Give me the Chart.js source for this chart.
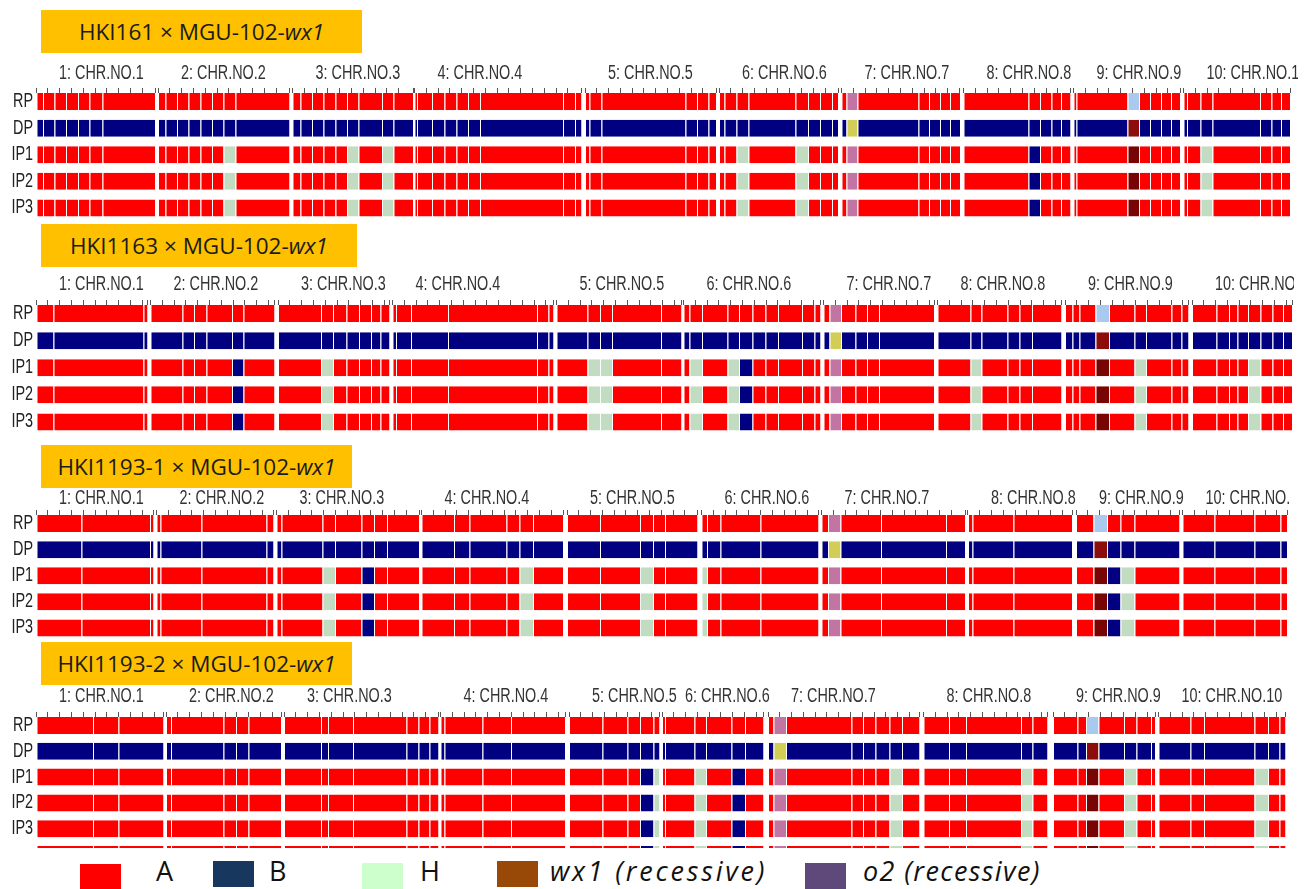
<!DOCTYPE html>
<html>
<head>
<meta charset="utf-8">
<script src="https://cdn.jsdelivr.net/npm/chart.js@4.4.1/dist/chart.umd.min.js"></script>
<style>
  html, body { margin: 0; padding: 0; background: #fff; }
  body { position: relative; width: 1309px; height: 889px; overflow: hidden; font-family: 'Open Sans', 'DejaVu Sans', sans-serif; }
  .title { position: absolute; left: 41px; height: 43px; background: #ffc000; color: #1b1b1b;
           font-size: 22.5px; display: flex; align-items: center; justify-content: center; white-space: nowrap; }
  .panel { position: absolute; left: 0; overflow: hidden; }
  .panel canvas { display: block; }
  .sw { position: absolute; width: 41px; height: 26px; }
  .lg { position: absolute; top: 858px; font-size: 27px; line-height: 26px; color: #111; white-space: nowrap; }
  .lg i { font-style: italic; }
</style>
</head>
<body>
<script>
// ---- shared labels ----
const rowLabels = ['RP', 'DP', 'IP1', 'IP2', 'IP3'];
const chromLabels = ['1: CHR.NO.1', '2: CHR.NO.2', '3: CHR.NO.3', '4: CHR.NO.4', '5: CHR.NO.5',
                     '6: CHR.NO.6', '7: CHR.NO.7', '8: CHR.NO.8', '9: CHR.NO.9', '10: CHR.NO.10'];

// ---- HKI161 × MGU-102-wx1 (map units along the concatenated genome) ----
const chr161 = [[0,119],[122,253.5],[256.5,377],[378.5,545.5],[549,680],[683,802],[805.5,924],[927.5,1034.5],[1037.5,1144],[1147.5,1254]];
const markers161 = [7,18.5,30,42,53.5,66.5, 129.5,141,152.5,164.5,176,187.5,199.5, 264.5,276,287.5,299.5,311,322.5,346,357.5,
                    381,396,408.5,420.5,432,444,527,539, 553.5,565.5,649.5,661,672.5, 688.5,700.5,712.5,759.5,772,784,796,
                    810.5,821.5,882.5,893,904,914, 992.5,1004,1015.5,1025, 1040.5,1091.5,1103,1114,1125,1135,
                    1151,1164.5,1176.5,1224,1235.5,1245];
const donor161 = [[187.5,199.5,'H'],[311,322.5,'H'],[346,357.5,'H'],[700.5,712.5,'H'],[759.5,772,'H'],[992.5,1004,'B'],[1164.5,1176.5,'H']];
const o2_161 = [810.5, 821.5];
const wx1_161 = [1091.5, 1103];

// ---- HKI1163 × MGU-102-wx1 ----
const chr1163 = [[0,111.5],[114.5,238.5],[242,353.5],[356.5,517.5],[520.5,645.5],[647.5,784.5],[787.5,898],[901.5,1025.5],[1029,1152.5],[1156,1256]];
const markers1163 = [17.5,107.5, 146.5,158,170.5,196,207.5, 285,297,310.5,323,335,344.5, 360,375,412,501,512.5,
                     551.5,564,576,625, 653.5,666,691.5,703,716.5,729.5,742,766,778.5, 793.5,805,819.5,831,843,
                     934.5,945.5,971.5,983.5,996, 1036.5,1043.5,1059.5,1073,1098.5,1110,1135.5,1145.5,
                     1180.5,1193,1201.5,1212,1224.5,1236.5,1247];
const donor1163 = [[196,207.5,'B'],[285,297,'H'],[551.5,576,'H'],[653.5,666,'H'],[691.5,703,'H'],[703,716.5,'B'],
                   [934.5,945.5,'H'],[1098.5,1110,'H'],[1212,1224.5,'H']];
const o2_1163 = [793.5, 805];
const wx1_1163 = [1059.5, 1073];

// ---- HKI1193-1 × MGU-102-wx1 ----
const chr1193a = [[0,117.5],[120.5,237.5],[240.5,383],[385.5,527],[531,661.5],[665.5,782.5],[785.5,929],[932,1036],[1040,1143.5],[1146.5,1251]];
const markers1193a = [45.5,114, 124.5,165.5,230.5, 245.5,286.5,299,325.5,338,351, 418,433.5,470.5,483.5,497,
                      564,604,617,629, 671,684.5,724.5, 792,804.5,845,910, 936.5,977.5,
                      1057.5,1071,1084.5,1098.5, 1178.5,1218.5,1244.5];
const donor1193a = [[286.5,299,'H'],[325.5,338,'B'],[483.5,497,'H'],[604,617,'H'],[665.5,671,'H'],[1071,1084.5,'B'],[1084.5,1098.5,'H']];
const o2_1193a = [792, 804.5];
const wx1_1193a = [1057.5, 1071];

// ---- HKI1193-2 × MGU-102-wx1 ----
const chr1193b = [[0,127.5],[130,245],[248,402.5],[404.5,529],[533,623.5],[626,727.5],[732,883.5],[887.5,1011.5],[1017,1119],[1122.5,1249.5]];
const markers1193b = [57,82.5, 135,187.5,200,212.5, 285,292,317,370.5,382.5,393.5, 408.5,446.5,475,
                      566.5,591.5,604,617.5, 629,658.5,670,695.5,709, 737.5,750,815.5,827,839.5,853.5,866,
                      913,930,985,996.5, 1041.5,1050,1062.5,1088,1100.5,1115, 1154.5,1168,1218.5,1232,1243.5];
const donor1193b = [[604,617.5,'B'],[617.5,623.5,'H'],[658.5,670,'H'],[695.5,709,'B'],[853.5,866,'H'],[985,996.5,'H'],
                    [1088,1100.5,'H'],[1218.5,1232,'H']];
const o2_1193b = [737.5, 750];
const wx1_1193b = [1050, 1062.5];

// ---- genotype colours ----
const genoColors = {
  A: '#ff0000', B: '#000080', H: '#c2dcc2',
  o2RP: '#c274a3', o2DP: '#d2ce55', o2IP: '#c274a3',
  wx1RP: '#a9c9ef', wx1DP: '#8d0d0d', wx1IP: '#780404'
};

const GENOME_LEN = 1256;
const LABEL_FONT = "20px 'Liberation Sans', Arial, sans-serif";

// Split every chromosome at its markers and give each interval a genotype per row.
function buildSegments(chroms, markers, donor, o2, wx1, nRows) {
  const segs = [];
  chroms.forEach(([cs, ce]) => {
    const cuts = new Set([cs, ce]);
    markers.forEach(m => { if (m > cs && m < ce) cuts.add(m); });
    [o2, wx1, ...donor].forEach(r => [r[0], r[1]].forEach(v => { if (v > cs && v < ce) cuts.add(v); }));
    const pts = [...cuts].sort((a, b) => a - b);
    for (let i = 0; i < pts.length - 1; i++) {
      const a = pts[i], b = pts[i + 1], mid = (a + b) / 2;
      const inside = r => mid > r[0] && mid < r[1];
      for (let row = 0; row < nRows; row++) {
        const role = row === 0 ? 'RP' : row === 1 ? 'DP' : 'IP';
        let g = role === 'DP' ? 'B' : 'A';
        if (role === 'IP') { const hit = donor.find(inside); if (hit) g = hit[2]; }
        if (inside(o2)) g = 'o2' + role;
        if (inside(wx1)) g = 'wx1' + role;
        segs.push({ x: [a, b], y: row, g });
      }
    }
  });
  return segs;
}

// Redraw the axis labels of the listed scales in a horizontally condensed face.
const narrowLabels = {
  id: 'narrowLabels',
  afterDraw(chart, args, opts) {
    const ctx = chart.ctx;
    (opts.scales || []).forEach(id => {
      const sc = chart.scales[id];
      sc.getLabelItems().forEach(item => {
        if (!item.label) return;
        const o = item.options;
        ctx.save();
        ctx.translate(o.translation[0], o.translation[1]);
        ctx.scale(opts.squeeze, 1);
        ctx.font = LABEL_FONT;
        ctx.fillStyle = opts.colors[id];
        ctx.textAlign = o.textAlign;
        ctx.textBaseline = o.textBaseline;
        ctx.fillText(item.label, 0, item.textOffset);
        ctx.restore();
      });
    });
  }
};

// ---- page layout of the four panels ----
const panels = [
  { title: 'HKI161', titleTop: 10, titleW: 321, chroms: chr161, markers: markers161, donor: donor161, o2: o2_161, wx1: wx1_161,
    rows: rowLabels, rpCenter: 101.5, pitch: 26.5, bottom: 219.5, labelY: 72, clipW: 1298 },
  { title: 'HKI1163', titleTop: 224, titleW: 316, chroms: chr1163, markers: markers1163, donor: donor1163, o2: o2_1163, wx1: wx1_1163,
    rows: rowLabels, rpCenter: 313, pitch: 27, bottom: 433, labelY: 283, clipW: 1294 },
  { title: 'HKI1193-1', titleTop: 445, titleW: 311, chroms: chr1193a, markers: markers1193a, donor: donor1193a, o2: o2_1193a, wx1: wx1_1193a,
    rows: rowLabels, rpCenter: 523.5, pitch: 26, bottom: 639.5, labelY: 497, clipW: 1290 },
  { title: 'HKI1193-2', titleTop: 642, titleW: 311, chroms: chr1193b, markers: markers1193b, donor: donor1193b, o2: o2_1193b, wx1: wx1_1193b,
    rows: rowLabels.concat(['']), rpCenter: 725.5, pitch: 25.8, bottom: 848, labelY: 695, clipW: 1309 }
];

function drawPanel(p) {
  // title box
  const t = document.createElement('div');
  t.className = 'title';
  t.style.top = p.titleTop + 'px';
  t.style.width = p.titleW + 'px';
  t.innerHTML = p.title + ' × MGU-102-<i>wx1</i>';
  document.body.appendChild(t);

  const chartTop = p.rpCenter - 8.5;
  const canvasTop = chartTop - 35;
  const h = Math.round(p.bottom - canvasTop);
  const wrap = document.createElement('div');
  wrap.className = 'panel';
  wrap.style.top = canvasTop + 'px';
  wrap.style.width = p.clipW + 'px';
  wrap.style.height = h + 'px';
  const canvas = document.createElement('canvas');
  canvas.width = 1309; canvas.height = h;
  canvas.style.width = '1309px'; canvas.style.height = h + 'px';
  wrap.appendChild(canvas);
  document.body.appendChild(wrap);

  const segs = buildSegments(p.chroms, p.markers, p.donor, p.o2, p.wx1, p.rows.length);
  const labelPad = (chartTop - 5) - (p.labelY + 1) - 12;

  new Chart(canvas, {
    type: 'bar',
    data: {
      datasets: [{
        data: segs,
        backgroundColor: segs.map(s => genoColors[s.g]),
        borderColor: 'rgba(255,255,255,0.85)',
        borderWidth: { left: 1, right: 0, top: 0, bottom: 0 },
        borderSkipped: false,
        barThickness: 17,
        inflateAmount: 0
      }]
    },
    plugins: [narrowLabels],
    options: {
      indexAxis: 'y',
      responsive: false,
      animation: false,
      devicePixelRatio: 1,
      events: [],
      layout: { padding: { left: 0, right: 17, top: 0, bottom: 0 } },
      plugins: {
        legend: { display: false }, tooltip: { enabled: false },
        narrowLabels: { scales: ['x2', 'y'], squeeze: 0.72, colors: { x2: '#333', y: '#222' } }
      },
      scales: {
        y: {
          type: 'linear', reverse: true, offset: false,
          min: -8.5 / p.pitch, max: (p.bottom - p.rpCenter) / p.pitch,
          afterBuildTicks: s => { s.ticks = p.rows.map((_, i) => ({ value: i })); },
          afterFit: s => { s.width = 36; s.paddingTop = 0; s.paddingBottom = 0; },
          grid: { display: false, drawTicks: false, offset: false },
          border: { display: false },
          ticks: { callback: v => p.rows[v] ?? '', padding: 3, autoSkip: false,
                   font: { family: "'Liberation Sans', Arial, sans-serif", size: 20 }, color: 'rgba(0,0,0,0)' }
        },
        x: {
          type: 'linear', position: 'top', min: 0, max: GENOME_LEN, weight: 0, offset: false,
          afterBuildTicks: s => {
            const ticks = [];
            p.chroms.forEach(([a, b]) => {
              for (let v = a; v < b - 4; v += 11.8) ticks.push({ value: v });
              ticks.push({ value: b });
            });
            s.ticks = ticks;
          },
          afterFit: s => { s.height = 5; s.paddingLeft = 0; s.paddingRight = 0; },
          grid: { drawOnChartArea: false, drawTicks: true, tickLength: 5, color: '#555', lineWidth: 1 },
          border: { display: false },
          ticks: { display: false, autoSkip: false }
        },
        x2: {
          type: 'linear', position: 'top', min: 0, max: GENOME_LEN, weight: 1, offset: false,
          afterBuildTicks: s => { s.ticks = p.chroms.map(c => ({ value: c[0] })); },
          afterFit: s => { s.height = 30; s.paddingLeft = 0; s.paddingRight = 0; },
          grid: { display: false, drawTicks: false },
          border: { display: false },
          ticks: { callback: (v, i) => chromLabels[i], align: 'start', labelOffset: 23, padding: labelPad,
                   autoSkip: false, maxRotation: 0, minRotation: 0,
                   font: { family: "'Liberation Sans', Arial, sans-serif", size: 20 }, color: 'rgba(0,0,0,0)' }
        }
      }
    }
  });
}

panels.forEach(drawPanel);

// ---- key ----
const keyItems = [
  { color: '#ff0000', swX: 80, swY: 864, text: 'A', tx: 156, italic: false, spacing: 0 },
  { color: '#17375e', swX: 213, swY: 861, text: 'B', tx: 269, italic: false, spacing: 0 },
  { color: '#ccffcc', swX: 362, swY: 863, text: 'H', tx: 420, italic: false, spacing: 0 },
  { color: '#984807', swX: 497, swY: 861, text: 'wx1 (recessive)', tx: 550, italic: true, spacing: 2.8 },
  { color: '#5f497a', swX: 805, swY: 863, text: 'o2 (recessive)', tx: 863, italic: true, spacing: 1.4 }
];
keyItems.forEach(k => {
  const sw = document.createElement('div');
  sw.className = 'sw';
  sw.style.left = k.swX + 'px'; sw.style.top = k.swY + 'px'; sw.style.background = k.color;
  document.body.appendChild(sw);
  const tx = document.createElement('div');
  tx.className = 'lg';
  tx.style.left = k.tx + 'px';
  tx.style.letterSpacing = k.spacing + 'px';
  tx.innerHTML = k.italic ? '<i>' + k.text + '</i>' : k.text;
  document.body.appendChild(tx);
});
</script>
</body>
</html>
